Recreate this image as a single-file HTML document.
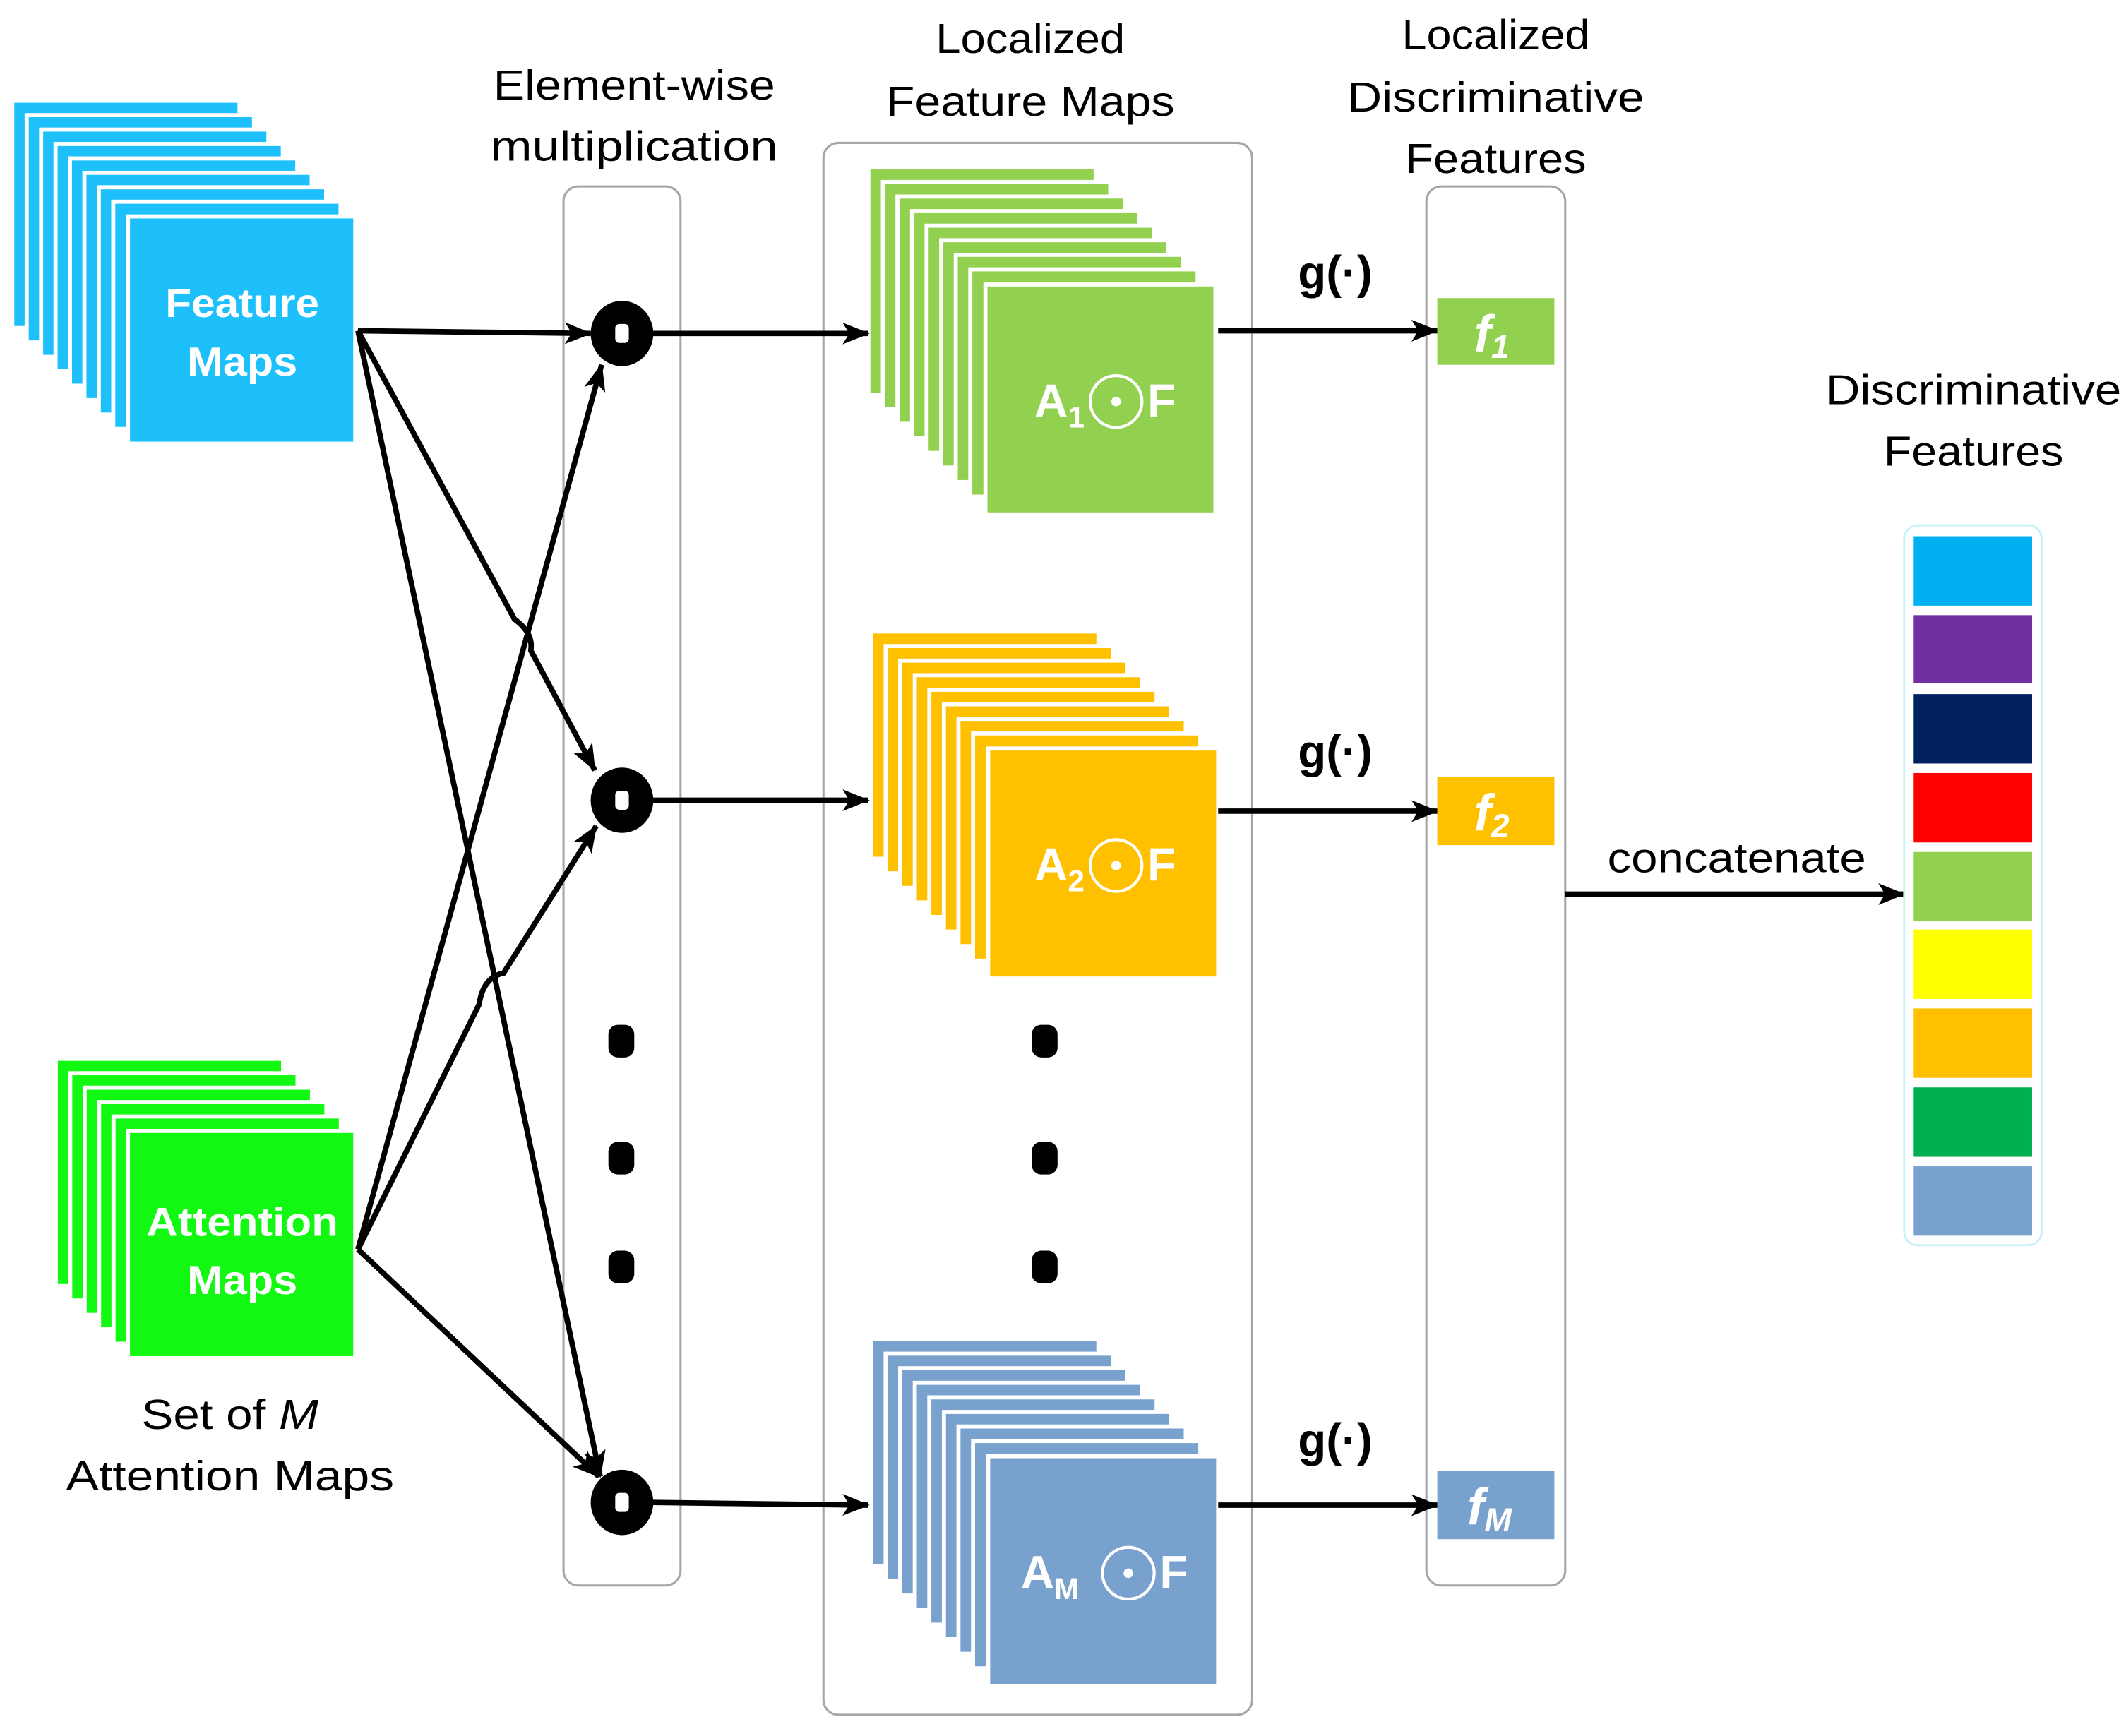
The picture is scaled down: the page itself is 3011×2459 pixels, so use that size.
<!DOCTYPE html>
<html><head><meta charset="utf-8"><style>html,body{margin:0;padding:0;background:#fff}svg{display:block}</style></head>
<body>
<svg xmlns="http://www.w3.org/2000/svg" width="3011" height="2459" viewBox="0 0 1562 1275.6" font-family="Liberation Sans, sans-serif">
<defs>
<marker id="a" viewBox="0 0 20 16" refX="19" refY="8" markerWidth="20" markerHeight="16" markerUnits="userSpaceOnUse" orient="auto">
<path d="M0,0 L20,8 L0,16 L5,8 Z" fill="#000"/>
</marker>
</defs>
<rect width="1562" height="1276" fill="#fff"/>

<rect x="414" y="137" width="86" height="1028" rx="11" fill="none" stroke="#a6a6a6" stroke-width="1.6"/>
<rect x="605" y="105" width="315" height="1155" rx="11" fill="none" stroke="#a6a6a6" stroke-width="1.6"/>
<rect x="1048" y="137" width="102" height="1028" rx="11" fill="none" stroke="#a6a6a6" stroke-width="1.6"/>

<g stroke="#fff" stroke-width="3" fill="#1ec0fc">
<rect x="9" y="74" width="167" height="167"/><rect x="19.6" y="84.6" width="167" height="167"/><rect x="30.2" y="95.2" width="167" height="167"/><rect x="40.8" y="105.8" width="167" height="167"/><rect x="51.4" y="116.4" width="167" height="167"/><rect x="62" y="127" width="167" height="167"/><rect x="72.6" y="137.6" width="167" height="167"/><rect x="83.2" y="148.2" width="167" height="167"/><rect x="94" y="159" width="167" height="167"/>
</g>
<g fill="#fff" font-weight="bold" font-size="30" text-anchor="middle">
<text x="178" y="233" textLength="113" lengthAdjust="spacingAndGlyphs">Feature</text>
<text x="178" y="276" textLength="81" lengthAdjust="spacingAndGlyphs">Maps</text>
</g>

<g stroke="#fff" stroke-width="3" fill="#12f812">
<rect x="41" y="778" width="167" height="167"/><rect x="51.6" y="788.6" width="167" height="167"/><rect x="62.2" y="799.2" width="167" height="167"/><rect x="72.8" y="809.8" width="167" height="167"/><rect x="83.4" y="820.4" width="167" height="167"/><rect x="94" y="831" width="167" height="167"/>
</g>
<g fill="#fff" font-weight="bold" font-size="30" text-anchor="middle">
<text x="178" y="908" textLength="141" lengthAdjust="spacingAndGlyphs">Attention</text>
<text x="178" y="951" textLength="81" lengthAdjust="spacingAndGlyphs">Maps</text>
</g>

<g stroke="#fff" stroke-width="3" fill="#92d050">
<rect x="638" y="123" width="167" height="167"/><rect x="648.7" y="133.7" width="167" height="167"/><rect x="659.4" y="144.4" width="167" height="167"/><rect x="670.1" y="155.1" width="167" height="167"/><rect x="680.8" y="165.8" width="167" height="167"/><rect x="691.5" y="176.5" width="167" height="167"/><rect x="702.2" y="187.2" width="167" height="167"/><rect x="712.9" y="197.9" width="167" height="167"/><rect x="724" y="209" width="169" height="169"/>
</g>
<g stroke="#fff" stroke-width="3" fill="#ffc000">
<rect x="640" y="464" width="167" height="167"/><rect x="650.7" y="474.7" width="167" height="167"/><rect x="661.4" y="485.4" width="167" height="167"/><rect x="672.1" y="496.1" width="167" height="167"/><rect x="682.8" y="506.8" width="167" height="167"/><rect x="693.5" y="517.5" width="167" height="167"/><rect x="704.2" y="528.2" width="167" height="167"/><rect x="714.9" y="538.9" width="167" height="167"/><rect x="726" y="550" width="169" height="169"/>
</g>
<g stroke="#fff" stroke-width="3" fill="#78a2cd">
<rect x="640" y="984" width="167" height="167"/><rect x="650.7" y="994.7" width="167" height="167"/><rect x="661.4" y="1005.4" width="167" height="167"/><rect x="672.1" y="1016.1" width="167" height="167"/><rect x="682.8" y="1026.8" width="167" height="167"/><rect x="693.5" y="1037.5" width="167" height="167"/><rect x="704.2" y="1048.2" width="167" height="167"/><rect x="714.9" y="1058.9" width="167" height="167"/><rect x="726" y="1070" width="169" height="169"/>
</g>
<g fill="#fff" font-weight="bold" font-size="34">
<text x="760" y="306">A<tspan font-size="22" dy="8">1</tspan></text>
<circle cx="820" cy="295" r="19" fill="none" stroke="#fff" stroke-width="2.2"/><circle cx="820" cy="295" r="3.5"/>
<text x="843" y="306">F</text>
<text x="760" y="647">A<tspan font-size="22" dy="8">2</tspan></text>
<circle cx="820" cy="636" r="19" fill="none" stroke="#fff" stroke-width="2.2"/><circle cx="820" cy="636" r="3.5"/>
<text x="843" y="647">F</text>
<text x="750" y="1167">A<tspan font-size="22" dy="8">M</tspan></text>
<circle cx="829" cy="1156" r="19" fill="none" stroke="#fff" stroke-width="2.2"/><circle cx="829" cy="1156" r="3.5"/>
<text x="852" y="1167">F</text>
</g>

<g>
<ellipse cx="457" cy="245" rx="23" ry="24" fill="#000"/><rect x="452" y="238" width="10" height="14" rx="3" fill="#fff"/>
<ellipse cx="457" cy="588" rx="23" ry="24" fill="#000"/><rect x="452" y="581" width="10" height="14" rx="3" fill="#fff"/>
<ellipse cx="457" cy="1104" rx="23" ry="24" fill="#000"/><rect x="452" y="1097" width="10" height="14" rx="3" fill="#fff"/>
</g>
<g fill="#000">
<rect x="447" y="753" width="19" height="24" rx="7"/><rect x="447" y="839" width="19" height="24" rx="7"/><rect x="447" y="919" width="19" height="24" rx="7"/>
<rect x="758" y="753" width="19" height="24" rx="7"/><rect x="758" y="839" width="19" height="24" rx="7"/><rect x="758" y="919" width="19" height="24" rx="7"/>
</g>

<g stroke="#000" stroke-width="4" fill="none" marker-end="url(#a)">
<path d="M263,243 L434,245"/>
<path d="M263,243 L378,455 Q392,465 390,478 L437,566"/>
<path d="M263,243 L441,1085"/>
<path d="M263,918 L442,268"/>
<path d="M263,918 L352,738 Q355,718 370,715 L438,607"/>
<path d="M263,918 L440,1085"/>
<path d="M479,245 L638,245"/>
<path d="M479,588 L638,588"/>
<path d="M479,1104 L638,1106"/>
<path d="M895,243 L1056,243"/>
<path d="M895,596 L1056,596"/>
<path d="M895,1106 L1056,1106"/>
<path d="M1150,657 L1399,657"/>
</g>

<rect x="1056" y="219" width="86" height="49" fill="#92d050"/>
<rect x="1056" y="571" width="86" height="50" fill="#ffc000"/>
<rect x="1056" y="1081" width="86" height="50" fill="#78a2cd"/>
<g fill="#fff" font-style="italic" font-weight="bold" font-size="38">
<text x="1083" y="258">f<tspan font-size="24" dy="5">1</tspan></text>
<text x="1083" y="610">f<tspan font-size="24" dy="5">2</tspan></text>
<text x="1078" y="1120">f<tspan font-size="24" dy="5">M</tspan></text>
</g>
<g font-size="34" text-anchor="middle" fill="#000" font-weight="bold">
<text x="981" y="212">g(·)</text>
<text x="981" y="564">g(·)</text>
<text x="981" y="1070">g(·)</text>
</g>

<rect x="1399" y="386" width="101" height="529" rx="10" fill="none" stroke="#c6f2f8" stroke-width="1.5"/>
<rect x="1406" y="394" width="87" height="51" fill="#00b0f0"/>
<rect x="1406" y="452" width="87" height="50" fill="#7030a0"/>
<rect x="1406" y="510" width="87" height="51" fill="#002060"/>
<rect x="1406" y="568" width="87" height="51" fill="#ff0000"/>
<rect x="1406" y="626" width="87" height="51" fill="#92d050"/>
<rect x="1406" y="683" width="87" height="51" fill="#ffff00"/>
<rect x="1406" y="741" width="87" height="51" fill="#ffc000"/>
<rect x="1406" y="799" width="87" height="51" fill="#00b050"/>
<rect x="1406" y="857" width="87" height="51" fill="#78a2cd"/>

<g font-size="31" text-anchor="middle" fill="#000">
<text x="466" y="73" textLength="207" lengthAdjust="spacingAndGlyphs">Element-wise</text>
<text x="466" y="118" textLength="211" lengthAdjust="spacingAndGlyphs">multiplication</text>
<text x="757" y="39" textLength="139" lengthAdjust="spacingAndGlyphs">Localized</text>
<text x="757" y="85" textLength="212" lengthAdjust="spacingAndGlyphs">Feature Maps</text>
<text x="1099" y="36" textLength="138" lengthAdjust="spacingAndGlyphs">Localized</text>
<text x="1099" y="82" textLength="218" lengthAdjust="spacingAndGlyphs">Discriminative</text>
<text x="1099" y="127" textLength="133" lengthAdjust="spacingAndGlyphs">Features</text>
<text x="1450" y="297" textLength="217" lengthAdjust="spacingAndGlyphs">Discriminative</text>
<text x="1450" y="342" textLength="132" lengthAdjust="spacingAndGlyphs">Features</text>
<text x="1276" y="641" textLength="190" lengthAdjust="spacingAndGlyphs">concatenate</text>
<text x="169" y="1050" textLength="130" lengthAdjust="spacingAndGlyphs">Set of <tspan font-style="italic">M</tspan></text>
<text x="169" y="1095" textLength="241" lengthAdjust="spacingAndGlyphs">Attention Maps</text>
</g>
</svg>
</body></html>
